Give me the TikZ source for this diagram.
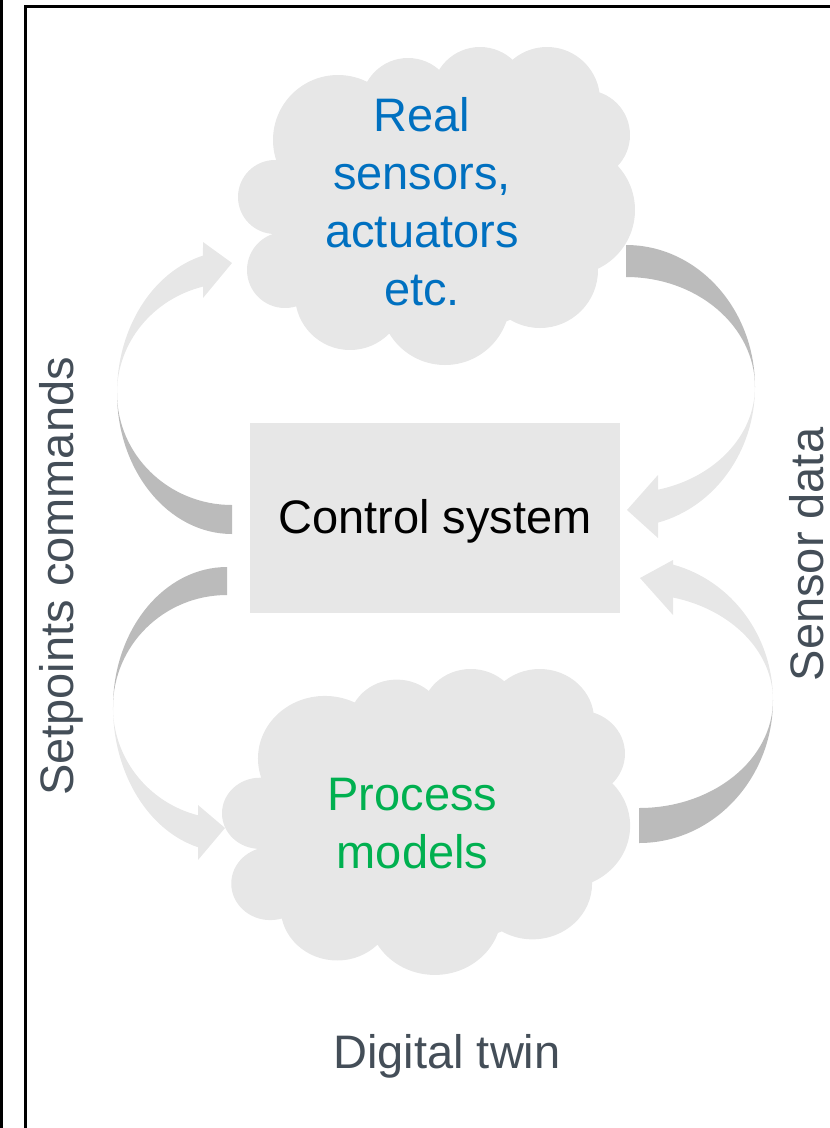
\documentclass[tikz,border=0pt]{standalone}
\usepackage{fontspec}
\setmainfont{Liberation Sans}

\definecolor{cloudgray}{RGB}{231,231,231}
\definecolor{boxgray}{RGB}{231,231,231}
\definecolor{arrowlight}{RGB}{231,231,231}
\definecolor{arrowdark}{RGB}{187,187,187}
\definecolor{realblue}{RGB}{0,112,192}
\definecolor{modelgreen}{RGB}{0,176,80}
\definecolor{labelgray}{RGB}{68,78,88}

\tikzset{
  bigtext/.style={font=\fontsize{47}{57.7}\selectfont, inner sep=0pt},
  framepen/.style={line width=3pt, draw=black},
  lightpart/.style={fill=arrowlight},
  darkpart/.style={fill=arrowdark},
  ctrlbox/.style={fill=boxgray, minimum width=370pt, minimum height=190pt, inner sep=0pt}
}

% cloud outline as a union of puffs, in a local frame whose origin is the top-left corner
\newcommand\puffcloud{%
  \fill[cloudgray]
    (37,150)  circle[radius=37]
    (100,93)  circle[radius=65]
    (170,58)  circle[radius=47]
    (242,48)  circle[radius=48]
    (309,53)  circle[radius=53]
    (347,88)  circle[radius=45]
    (332,163) circle[radius=65]
    (302,223) circle[radius=58]
    (207,253) circle[radius=65]
    (112,248) circle[radius=55]
    (47,223)  circle[radius=38]
    (197,158) ellipse[x radius=160, y radius=130];
}

\begin{document}
\begin{tikzpicture}[x=1pt,y=-1pt]
\useasboundingbox (0,0) rectangle (830,1128);
\clip (0,0) rectangle (830,1128);

% frame lines
\draw[framepen] (1.5,-5) -- (1.5,1135);
\draw[framepen] (25.5,1135) -- (25.5,6.5) -- (835,6.5);

% clouds
\begin{scope}[shift={(238,47)}]
  \puffcloud
\end{scope}
\begin{scope}[shift={(222,669)}, xscale=1.028, yscale=0.962]
  \puffcloud
\end{scope}

% control system box
\node[ctrlbox] (ctrl) at (435,518) {};
\node[bigtext] (ctrltext) at ([yshift=-3pt]ctrl.center) {Control system};

% curved arrow: control system -> real sensors (setpoints)
\fill[darkpart] (232,534) arc[start angle=90, end angle=180, x radius=115, y radius=141]
  arc[start angle=180, end angle=90, x radius=115, y radius=112] -- cycle;
\fill[lightpart] (117,393) arc[start angle=180, end angle=255.39, x radius=115, y radius=142]
  -- (203,242) -- (232,263) -- (203,298) -- (203,286.6)
  arc[start angle=255.39, end angle=180, x radius=115, y radius=110] -- cycle;

% curved arrow: real sensors -> control system (sensor data)
\fill[darkpart] (626,245) arc[start angle=270, end angle=360, x radius=129, y radius=142]
  arc[start angle=0, end angle=-90, x radius=129, y radius=110] -- cycle;
\fill[lightpart] (755,387) arc[start angle=0, end angle=75.6, x radius=129, y radius=140]
  -- (658,538) -- (627,510) -- (658,475) -- (658,489.7)
  arc[start angle=75.6, end angle=0, x radius=129, y radius=106] -- cycle;

% curved arrow: control system -> process models (setpoints)
\fill[darkpart] (227,567) arc[start angle=270, end angle=180, x radius=114, y radius=140]
  arc[start angle=180, end angle=270, x radius=114, y radius=112] -- cycle;
\fill[lightpart] (113,707) arc[start angle=180, end angle=104.7, x radius=114, y radius=145]
  -- (198,860) -- (225,828) -- (198,805) -- (198,815.3)
  arc[start angle=104.7, end angle=180, x radius=114, y radius=112] -- cycle;

% curved arrow: process models -> control system (sensor data)
\fill[darkpart] (639,843) arc[start angle=90, end angle=0, x radius=134, y radius=143]
  arc[start angle=0, end angle=90, x radius=134, y radius=108] -- cycle;
\fill[lightpart] (773,700) arc[start angle=0, end angle=-75.3, x radius=134, y radius=140]
  -- (673,560) -- (640,578) -- (673,615) -- (673,597.5)
  arc[start angle=-75.3, end angle=0, x radius=134, y radius=106] -- cycle;

% texts
\node[bigtext, text=realblue, align=center] (real) at (422,201.7) {Real\\sensors,\\actuators\\etc.};
\node[bigtext, text=modelgreen, align=center] (models) at (412.5,823.7) {Process\\models};
\node[bigtext, text=labelgray, rotate=90, anchor=base] (setpts) at (73,576.5) {Setpoints commands};
\node[bigtext, text=labelgray, rotate=90, anchor=base] (sensdata) at (823,554.5) {Sensor data};
\node[bigtext, text=labelgray, anchor=base] (twin) at (447,1068) {Digital twin};
\end{tikzpicture}
\end{document}
